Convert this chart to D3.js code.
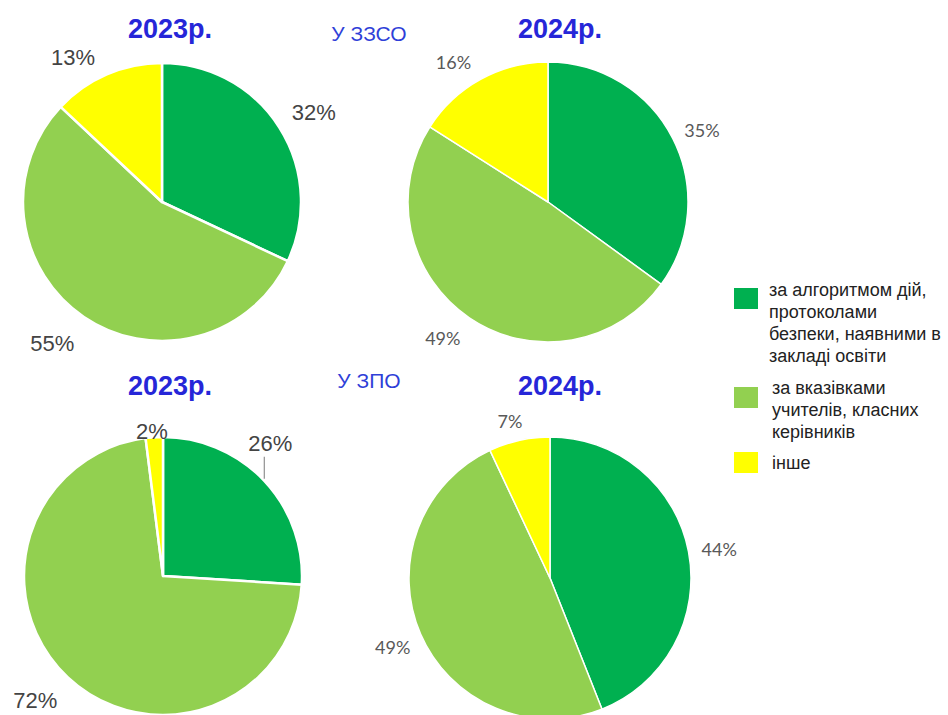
<!DOCTYPE html>
<html>
<head>
<meta charset="utf-8">
<script src="https://cdn.jsdelivr.net/npm/d3@7"></script>
<style>
  html, body { margin: 0; padding: 0; background: #fff; }
  svg { display: block; }
</style>
</head>
<body>
<svg id="chart" width="948" height="715"></svg>
<script>
// ---- data ----
const categories = [
  "за алгоритмом дій, протоколами безпеки, наявними в закладі освіти",
  "за вказівками учителів, класних керівників",
  "інше"
];
const legendLines = [
  ["за алгоритмом дій,", "протоколами", "безпеки, наявними в", "закладі освіти"],
  ["за вказівками", "учителів, класних", "керівників"],
  ["інше"]
];
const years = ["2023р.", "2024р."];
const groups = ["У ЗЗСО", "У ЗПО"];
const zzso2023 = [32, 55, 13];
const zzso2024 = [35, 49, 16];
const zpo2023 = [26, 72, 2];
const zpo2024 = [44, 49, 7];
const colors = ["#00b050", "#92d050", "#ffff00"];

// ---- layout ----
const svg = d3.select("#chart");
const color = d3.scaleOrdinal().domain(categories).range(colors);

const sansA = "'Liberation Sans', Arial, sans-serif";
const sansC = "Lato, 'Open Sans', sans-serif";
const charts = [
  { values: zzso2023, cx: 162, cy: 202, r: 139, k: 1.25, font: sansA, fs: 22, fill: "#444", sw: 2.5,
    nudge: [[5, 4], [-12, -2], [-20, 15]] },
  { values: zzso2024, cx: 548, cy: 202, r: 140, k: 1.21, font: sansC, fs: 18, fill: "#595959", sw: 1.5,
    nudge: [[3, 5], [-10, -4], [-13, 8]] },
  { values: zpo2023, cx: 163, cy: 576, r: 139, k: 1.29, font: sansA, fs: 22, fill: "#444", sw: 2.5,
    special: { 0: "leader", 2: 1.05 }, nudge: [[0, -2], [-5, -6], [-2, 1]] },
  { values: zpo2024, cx: 550, cy: 578, r: 141, k: 1.2, font: sansC, fs: 18, fill: "#595959", sw: 1.5,
    special: { 2: 1.14 }, nudge: [[3, 3], [-2, 2], [-5, 0]] }
];

const pie = d3.pie().sort(null).value(d => d);

charts.forEach(c => {
  const g = svg.append("g").attr("transform", `translate(${c.cx},${c.cy})`);
  const arcs = pie(c.values);
  const arc = d3.arc().innerRadius(0).outerRadius(c.r);
  g.selectAll("path").data(arcs).enter().append("path")
    .attr("d", arc)
    .attr("fill", (d, i) => color(categories[i]))
    .attr("stroke", "#fff")
    .attr("stroke-width", c.sw)
    .attr("stroke-linejoin", "round");

  arcs.forEach((d, i) => {
    const sp = c.special && c.special[i];
    const nd = (c.nudge && c.nudge[i]) || [0, 0];
    if (sp === "leader") {
      const edge = d3.arc().innerRadius(c.r).outerRadius(c.r).centroid(d);
      g.append("line")
        .attr("x1", edge[0]).attr("y1", edge[1] - 2)
        .attr("x2", edge[0]).attr("y2", edge[1] - 24)
        .attr("stroke", "#999").attr("stroke-width", 1.3);
      g.append("text").attr("x", edge[0] + 6 + nd[0]).attr("y", edge[1] - 28 + nd[1])
        .attr("text-anchor", "middle")
        .style("font-family", c.font).style("font-size", c.fs + "px").attr("fill", c.fill)
        .text(d.data + "%");
      return;
    }
    const k = (typeof sp === "number") ? sp : c.k;
    const la = d3.arc().innerRadius(c.r * k).outerRadius(c.r * k);
    const p = la.centroid(d);
    g.append("text").attr("x", p[0] + nd[0]).attr("y", p[1] + nd[1])
      .attr("text-anchor", "middle").attr("dominant-baseline", "central")
      .style("font-family", c.font).style("font-size", c.fs + "px").attr("fill", c.fill)
      .text(d.data + "%");
  });
});

// ---- headings ----
const heads = [
  { t: years[0], x: 170, y: 38 }, { t: years[1], x: 560, y: 38 },
  { t: years[0], x: 170, y: 395 }, { t: years[1], x: 560, y: 395 }
];
svg.selectAll("text.head").data(heads).enter().append("text")
  .attr("class", "head").attr("x", d => d.x).attr("y", d => d.y)
  .attr("text-anchor", "middle")
  .style("font-family", sansA).style("font-size", "27px").style("font-weight", "bold")
  .attr("fill", "#2626d8").text(d => d.t);

const subs = [{ t: groups[0], x: 369, y: 41 }, { t: groups[1], x: 369, y: 388 }];
svg.selectAll("text.sub").data(subs).enter().append("text")
  .attr("class", "sub").attr("x", d => d.x).attr("y", d => d.y)
  .attr("text-anchor", "middle")
  .style("font-family", sansA).style("font-size", "21px")
  .attr("fill", "#2f3fd8").text(d => d.t);

// ---- legend ----
const legendY = [288, 387, 452];
const legendBase = [296, 394, 469];
const legend = svg.append("g");
legendLines.forEach((lines, i) => {
  legend.append("rect").attr("x", 734).attr("y", legendY[i]).attr("width", 24).attr("height", 21)
    .attr("fill", color(categories[i]));
  lines.forEach((ln, j) => {
    legend.append("text")
      .attr("x", i === 0 ? 769 : 772)
      .attr("y", legendBase[i] + j * 22)
      .style("font-family", sansA).style("font-size", "18px")
      .attr("fill", "#222").text(ln);
  });
});
</script>
</body>
</html>
